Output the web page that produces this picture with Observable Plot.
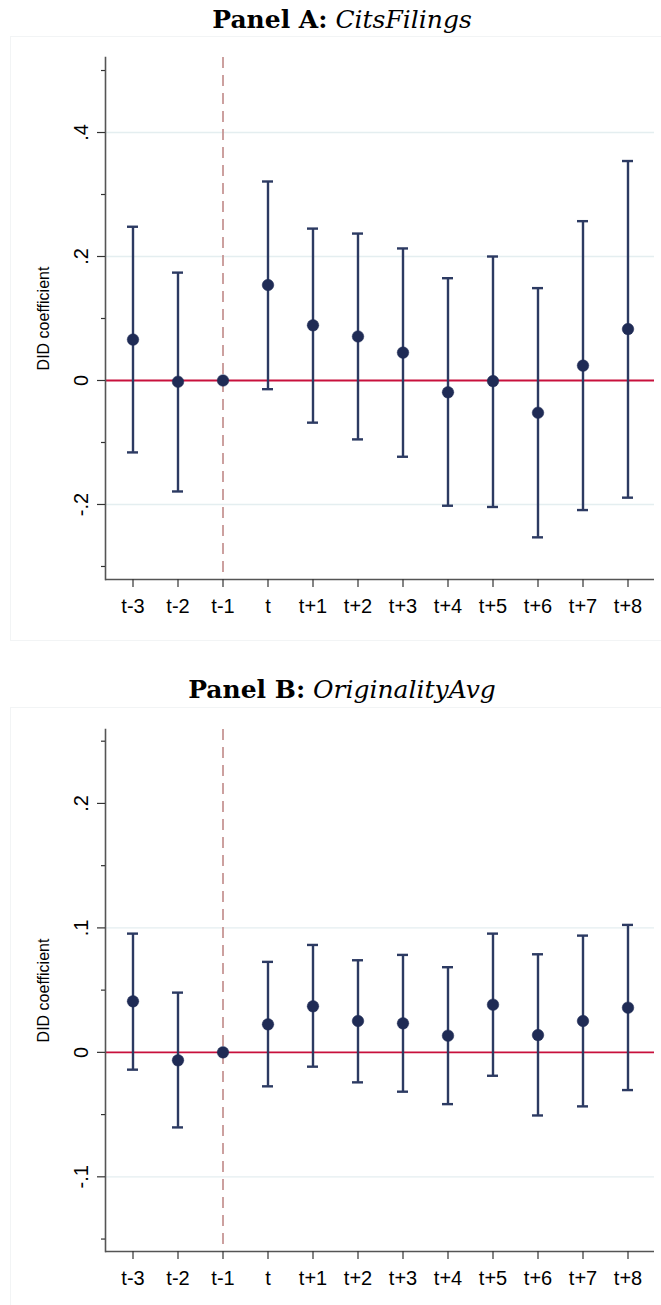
<!DOCTYPE html>
<html><head><meta charset="utf-8">
<script src="https://cdn.jsdelivr.net/npm/d3@7"></script>
<script src="https://cdn.jsdelivr.net/npm/@observablehq/plot@0.6"></script>
<style>
body{margin:0;background:#fff;}
#wrap{position:relative;width:661px;height:1305px;overflow:hidden;background:#fff;}
.region{position:absolute;border:1px solid #f2f4f5;}
.title{position:absolute;left:0;width:684px;text-align:center;font-family:"DejaVu Serif",serif;font-size:25px;line-height:25px;color:#000;white-space:nowrap;}
.title b{font-weight:bold;}
.title i{font-style:italic;}
.chart{position:absolute;left:0;}
</style></head><body>
<div id="wrap">
  <div class="region" style="left:10px;top:36px;width:700px;height:603px;"></div>
  <div class="region" style="left:10px;top:707px;width:700px;height:700px;"></div>
  <div class="title" style="top:7px;"><b>Panel A:</b> <i>CitsFilings</i></div>
  <div class="chart" id="chartA" style="top:40px;"></div>
  <div class="title" style="top:677px;"><b>Panel B:</b> <i>OriginalityAvg</i></div>
  <div class="chart" id="chartB" style="top:710px;"></div>
</div>
<script>
// Event-time categories
const cats = ["t-3","t-2","t-1","t","t+1","t+2","t+3","t+4","t+5","t+6","t+7","t+8"];

// Panel A: CitsFilings
const coefA = [0.066, -0.002, 0, 0.154, 0.089, 0.071, 0.045, -0.019, -0.001, -0.052, 0.024, 0.083];
const loA   = [-0.116, -0.179, null, -0.014, -0.068, -0.095, -0.123, -0.202, -0.204, -0.253, -0.209, -0.189];
const hiA   = [0.248, 0.174, null, 0.321, 0.245, 0.237, 0.213, 0.165, 0.200, 0.149, 0.257, 0.354];
const majorA = [-0.2, 0, 0.2, 0.4];
const majorLabelsA = ["-.2", "0", ".2", ".4"];
const minorA = [-0.3, -0.1, 0.1, 0.3, 0.5];
const gridA = [-0.2, 0.2, 0.4];
const domainA = [-0.321, 0.521];

// Panel B: OriginalityAvg
const coefB = [0.041, -0.0064, 0, 0.0225, 0.037, 0.0252, 0.0233, 0.0134, 0.0383, 0.0139, 0.0252, 0.0359];
const loB   = [-0.0139, -0.0603, null, -0.0273, -0.0115, -0.0241, -0.0316, -0.0416, -0.0188, -0.0507, -0.0434, -0.0303];
const hiB   = [0.0954, 0.048, null, 0.0727, 0.0863, 0.074, 0.0783, 0.0684, 0.0954, 0.0788, 0.0938, 0.1024];
const majorB = [-0.1, 0, 0.1, 0.2];
const majorLabelsB = ["-.1", "0", ".1", ".2"];
const minorB = [-0.15, -0.05, 0.05, 0.15, 0.25];
const gridB = [-0.1, 0.1];
const domainB = [-0.16, 0.2594];

const yLabel = "DID coefficient";
const eventCat = "t-1";

const navy = "#2c3a62";
const dotFill = "#1f2b55";

function panel({coef, lo, hi, domain, major, majorLabels, minor, grid, height, mt, mb}) {
  const data = cats.map((c, i) => ({c, coef: coef[i], lo: lo[i], hi: hi[i]}));
  const ci = data.filter(d => d.lo != null);
  return Plot.plot({
    width: 661, height,
    marginLeft: 105, marginRight: 7, marginTop: mt, marginBottom: mb,
    style: {fontFamily: "'Liberation Sans', Arial, sans-serif", background: "transparent", color: "#222"},
    x: {type: "band", domain: cats, padding: 0, axis: null},
    y: {domain, axis: null},
    marks: [
      Plot.ruleY(grid, {stroke: "#e4eef0", strokeWidth: 1.3}),
      Plot.ruleY([0], {stroke: "#c8103c", strokeWidth: 1.8}),
      Plot.ruleX([eventCat], {stroke: "#c4908f", strokeWidth: 1.7, strokeDasharray: "11,7"}),
      Plot.ruleX(ci, {x: "c", y1: "lo", y2: "hi", stroke: navy, strokeWidth: 2.4}),
      Plot.tickY(ci, {x: "c", y: "lo", stroke: navy, strokeWidth: 2.4, insetLeft: 17, insetRight: 17}),
      Plot.tickY(ci, {x: "c", y: "hi", stroke: navy, strokeWidth: 2.4, insetLeft: 17, insetRight: 17}),
      Plot.dot(data, {x: "c", y: "coef", r: 5.8, fill: dotFill, stroke: dotFill, strokeWidth: 0.5}),
      Plot.ruleY([domain[0]], {stroke: "#555", strokeWidth: 1.6}),
      Plot.frame({anchor: "left", stroke: "#555", strokeWidth: 1.6}),
      Plot.axisX({tickSize: 8, tickPadding: 11, fontSize: 20, label: null, stroke: "#333", fill: "#000", strokeWidth: 1.2}),
      Plot.axisY(major, {tickSize: 8, tickFormat: () => "", label: null, stroke: "#333", strokeWidth: 1.2}),
      Plot.axisY(minor, {tickSize: 4, tickFormat: () => "", label: null, stroke: "#333", strokeWidth: 1.2}),
      Plot.text(major, {y: d => d, text: (d, i) => majorLabels[i], frameAnchor: "left", textAnchor: "middle", dx: -24, rotate: -90, fontSize: 20, fill: "#000"}),
      Plot.text([yLabel], {frameAnchor: "left", textAnchor: "middle", dx: -62, rotate: -90, fontSize: 16, fill: "#000"})
    ]
  });
}

document.getElementById("chartA").append(panel({
  coef: coefA, lo: loA, hi: hiA, domain: domainA, major: majorA, majorLabels: majorLabelsA,
  minor: minorA, grid: gridA, height: 600, mt: 17, mb: 61
}));
document.getElementById("chartB").append(panel({
  coef: coefB, lo: loB, hi: hiB, domain: domainB, major: majorB, majorLabels: majorLabelsB,
  minor: minorB, grid: gridB, height: 595, mt: 19, mb: 54
}));
</script>
</body></html>
